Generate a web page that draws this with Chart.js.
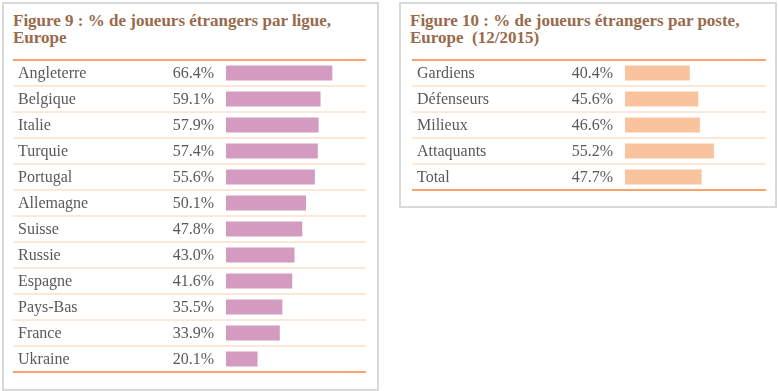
<!DOCTYPE html>
<html>
<head>
<meta charset="utf-8">
<script src="https://cdn.jsdelivr.net/npm/chart.js@4.4.0/dist/chart.umd.min.js"></script>
<style>
  body { margin: 0; background: #fff; width: 778px; height: 391px; position: relative; overflow: hidden; }
  .panel { position: absolute; border: 2px solid #d9d9d9; box-sizing: border-box; background: #fff; }
  .titre { position: absolute; left: 9px; top: 8px; font-family: "Liberation Serif", serif; font-weight: bold;
           font-size: 17px; line-height: 17px; color: #996a4b; white-space: nowrap; }
  canvas { position: absolute; }
</style>
</head>
<body>
<div class="panel" id="p9" style="left:2px; top:2px; width:377px; height:389px;">
  <div class="titre">Figure 9 : % de joueurs étrangers par ligue,<br>Europe</div>
</div>
<div class="panel" id="p10" style="left:399px; top:2px; width:378px; height:206px;">
  <div class="titre">Figure 10 : % de joueurs étrangers par poste,<br>Europe&nbsp; (12/2015)</div>
</div>
<canvas id="chartLigue" style="left:13px; top:52px;" width="353" height="328"></canvas>
<canvas id="chartPoste" style="left:412px; top:52px;" width="354" height="146"></canvas>
<script>
const ligues = ["Angleterre", "Belgique", "Italie", "Turquie", "Portugal", "Allemagne",
    "Suisse", "Russie", "Espagne", "Pays-Bas", "France", "Ukraine"];
const pctLigue = [66.4, 59.1, 57.9, 57.4, 55.6, 50.1, 47.8, 43.0, 41.6, 35.5, 33.9, 20.1];

const postes = ["Gardiens", "Défenseurs", "Milieux", "Attaquants", "Total"];
const pctPoste = [40.4, 45.6, 46.6, 55.2, 47.7];

const police = '"Liberation Serif", serif';

// lignes du tableau, libellés et valeurs
const tableauPlugin = {
    id: "tableau",
    beforeDatasetsDraw(chart) {
        const ctx = chart.ctx;
        const yScale = chart.scales.y;
        const n = chart.data.labels.length;
        const w = chart.width;
        const pas = yScale.getPixelForValue(1) - yScale.getPixelForValue(0);
        ctx.save();
        for (let i = 0; i <= n; i++) {
            const y = yScale.getPixelForValue(i) - pas / 2;
            const bord = i === 0 || i === n;
            ctx.strokeStyle = bord ? "#f6a46c" : "#fccfae";
            ctx.lineWidth = bord ? 2 : 1.2;
            ctx.beginPath();
            ctx.moveTo(0, Math.round(y));
            ctx.lineTo(w, Math.round(y));
            ctx.stroke();
        }
        ctx.font = "16px " + police;
        ctx.fillStyle = "#595959";
        ctx.textBaseline = "middle";
        chart.data.labels.forEach((lab, i) => {
            const y = yScale.getPixelForValue(i);
            ctx.textAlign = "left";
            ctx.fillText(lab, 5, y + 1);
            ctx.textAlign = "right";
            ctx.fillText(chart.data.datasets[0].data[i].toFixed(1) + "%", chart.chartArea.left - 12, y + 1);
        });
        ctx.restore();
    },
};

function configTableau(labels, valeurs, couleur) {
    return {
        type: "bar",
        data: {
            labels: labels,
            datasets: [{
                data: valeurs,
                backgroundColor: couleur,
                borderColor: "rgba(255,255,255,0.45)",
                borderWidth: 1,
                barPercentage: 0.65,
                categoryPercentage: 1,
            }],
        },
        options: {
            indexAxis: "y",
            responsive: false,
            animation: false,
            layout: { padding: { left: 213, right: 0, top: 8, bottom: 8 } },
            plugins: { legend: { display: false }, tooltip: { enabled: false } },
            scales: {
                x: { display: false, min: 0, max: 86.6 },
                y: { display: false, offset: true },
            },
        },
        plugins: [tableauPlugin],
    };
}

new Chart(document.getElementById("chartLigue"), configTableau(ligues, pctLigue, "#d39bbf"));
new Chart(document.getElementById("chartPoste"), configTableau(postes, pctPoste, "#f8c39d"));
</script>
</body>
</html>
